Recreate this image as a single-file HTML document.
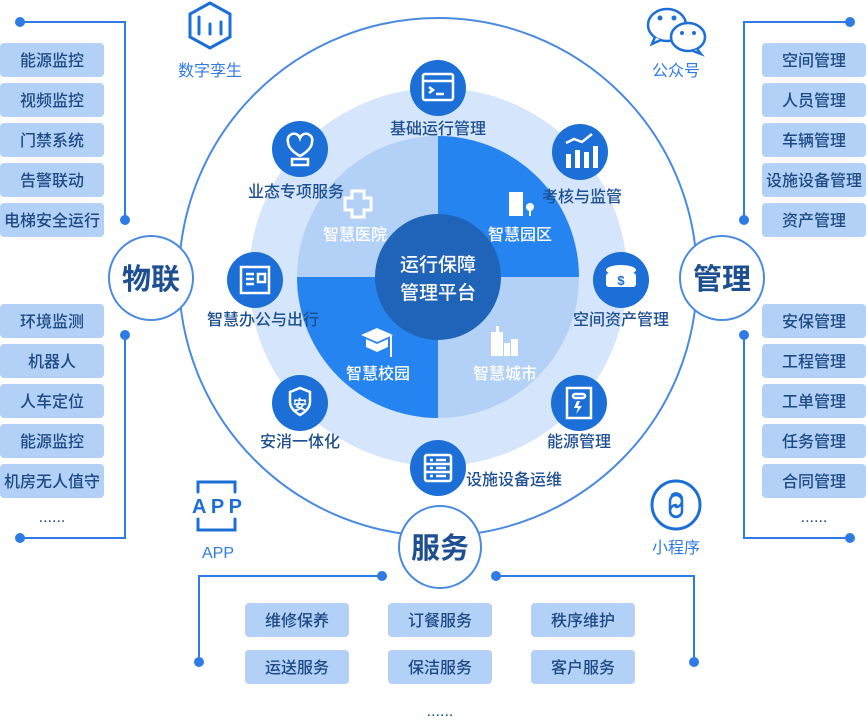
<!DOCTYPE html>
<html><head><meta charset="utf-8"><style>
html,body{margin:0;padding:0;background:#fff}
svg{display:block}
text{font-family:"Liberation Sans","Noto Sans CJK SC",sans-serif}
.bx{fill:#b3d1f7}
.bt{fill:#1d4a85;font-size:16px;text-anchor:middle;font-weight:500}
.lb{fill:#1d4f91;font-size:16px;font-weight:500}
.ic{fill:#1c6fd6}
.ln{stroke:#2e7be6;stroke-width:2;fill:none}
.dot{fill:#2e7be6}
.cn{fill:#2e7be6;font-size:16px;text-anchor:middle}
.w{fill:#fff;font-size:16px;text-anchor:middle;font-weight:500}
</style></head><body>
<svg width="866" height="720" viewBox="0 0 866 720" xmlns="http://www.w3.org/2000/svg">
<circle cx="438" cy="277" r="259" fill="#fff" stroke="#4a8be0" stroke-width="2"/>
<circle cx="438" cy="277" r="189" fill="#d5e5fb"/>
<path d="M438 277 L438 136 A141 141 0 0 1 579 277 Z" fill="#2584f0"/>
<path d="M438 277 L579 277 A141 141 0 0 1 438 418 Z" fill="#b3d1f7"/>
<path d="M438 277 L438 418 A141 141 0 0 1 297 277 Z" fill="#2584f0"/>
<path d="M438 277 L297 277 A141 141 0 0 1 438 136 Z" fill="#b3d1f7"/>
<circle cx="438" cy="277" r="63" fill="#1f64b8"/>
<text x="438" y="271" class="w" style="font-size:19px">运行保障</text>
<text x="438" y="299" class="w" style="font-size:19px">管理平台</text>
<text x="355" y="240" class="w">智慧医院</text>
<text x="520" y="240" class="w">智慧园区</text>
<text x="378" y="379" class="w">智慧校园</text>
<text x="505" y="379" class="w">智慧城市</text>
<g fill="#fff">
<path d="M352 191h12v7h7v12h-7v7h-12v-7h-7v-12h7z" fill="none" stroke="#fff" stroke-width="3"/>
<rect x="509" y="192" width="14" height="24"/><rect x="526" y="203" width="8" height="8" rx="4"/><rect x="529" y="208" width="2" height="8"/>
<path d="M361 335l16-7 16 7-16 7z"/><path d="M366 339v8l11 5 11-5v-8l-11 5z"/><rect x="390" y="336" width="2" height="21"/>
<rect x="491" y="332" width="12" height="24"/><rect x="496" y="326" width="3" height="6"/><rect x="504" y="343" width="6" height="13"/><rect x="511" y="339" width="7" height="17"/>
</g>
<g class="ic">
<circle cx="438" cy="88" r="28"/><circle cx="580" cy="152" r="28"/><circle cx="621" cy="280" r="28"/>
<circle cx="579" cy="403" r="28"/><circle cx="438" cy="468" r="28"/><circle cx="300" cy="403" r="28"/>
<circle cx="255" cy="280" r="28"/><circle cx="300" cy="149" r="28"/>
</g>
<g fill="none" stroke="#fff" stroke-width="2.5">
<rect x="423" y="74" width="30" height="26" rx="2"/><line x1="423" y1="81" x2="453" y2="81"/><path d="M429 87l4 3-4 3M436 94h8"/>
<path d="M288 142a6 6 0 0 1 12-4a6 6 0 0 1 12 4c0 8-12 14-12 14s-12-6-12-14z"/><rect x="292" y="159" width="16" height="6"/>
<path d="M566 143l8-4 8 3 10-8"/>
<rect x="241" y="267" width="28" height="26"/><path d="M246 274h8M246 279h8M246 284h8M258 274h7v8h-7z"/>
<path d="M290 392l10-4 10 4v10c0 8-10 13-10 13s-10-5-10-13z"/>
<rect x="567" y="388" width="24" height="30"/><rect x="573" y="394" width="12" height="4" rx="2"/>
<rect x="425" y="455" width="26" height="26" rx="2"/><path d="M425 464h26M425 472h26M430 460h3M436 460h10M430 468h3M436 468h10M430 476h3M436 476h10"/>
</g>
<g fill="#fff">
<rect x="566" y="154" width="5" height="14"/><rect x="575" y="150" width="5" height="18"/><rect x="584" y="152" width="5" height="16"/><rect x="593" y="146" width="5" height="22"/>
<ellipse cx="621" cy="270" rx="15" ry="5"/><rect x="606" y="273" width="30" height="14" rx="3"/>
<path d="M577 401l-3 7h4l-2 6 6-8h-4l2-5z"/>
</g>
<text x="621" y="285" fill="#1c6fd6" font-size="13" text-anchor="middle" font-weight="bold">$</text>
<text x="300" y="410" fill="#fff" font-size="14" text-anchor="middle" font-weight="bold">安</text>
<text x="438" y="134" class="lb" text-anchor="middle">基础运行管理</text>
<text x="296" y="197" class="lb" text-anchor="middle">业态专项服务</text>
<text x="582" y="202" class="lb" text-anchor="middle">考核与监管</text>
<text x="263" y="325" class="lb" text-anchor="middle">智慧办公与出行</text>
<text x="621" y="325" class="lb" text-anchor="middle">空间资产管理</text>
<text x="300" y="447" class="lb" text-anchor="middle">安消一体化</text>
<text x="579" y="447" class="lb" text-anchor="middle">能源管理</text>
<text x="514" y="485" class="lb" text-anchor="middle">设施设备运维</text>
<path class="ln" d="M20 22H125V220"/><circle class="dot" cx="20" cy="22" r="5"/><circle class="dot" cx="125" cy="220" r="5"/>
<path class="ln" d="M125 335V538H20"/><circle class="dot" cx="125" cy="335" r="5"/><circle class="dot" cx="20" cy="538" r="5"/>
<path class="ln" d="M850 22H744V220"/><circle class="dot" cx="850" cy="22" r="5"/><circle class="dot" cx="744" cy="220" r="5"/>
<path class="ln" d="M744 335V538H850"/><circle class="dot" cx="744" cy="335" r="5"/><circle class="dot" cx="850" cy="538" r="5"/>
<path class="ln" d="M382 576H199V662"/><circle class="dot" cx="382" cy="576" r="5"/><circle class="dot" cx="199" cy="662" r="5"/>
<path class="ln" d="M496 576H694V662"/><circle class="dot" cx="496" cy="576" r="5"/><circle class="dot" cx="694" cy="662" r="5"/>
<g fill="#fff" stroke="#4a8be0" stroke-width="2">
<circle cx="151" cy="278" r="42"/><circle cx="722" cy="278" r="42"/><circle cx="440" cy="547" r="41"/>
</g>
<g fill="#1d4f91" font-size="29" font-weight="bold" text-anchor="middle">
<text x="151" y="289">物联</text><text x="722" y="289">管理</text><text x="440" y="558">服务</text>
</g>
<g>
<rect class="bx" x="0" y="43" width="104" height="34" rx="4"/><text class="bt" x="52" y="66">能源监控</text>
<rect class="bx" x="0" y="83" width="104" height="34" rx="4"/><text class="bt" x="52" y="106">视频监控</text>
<rect class="bx" x="0" y="123" width="104" height="34" rx="4"/><text class="bt" x="52" y="146">门禁系统</text>
<rect class="bx" x="0" y="163" width="104" height="34" rx="4"/><text class="bt" x="52" y="186">告警联动</text>
<rect class="bx" x="0" y="203" width="104" height="34" rx="4"/><text class="bt" x="52" y="226">电梯安全运行</text>
<rect class="bx" x="0" y="304" width="104" height="34" rx="4"/><text class="bt" x="52" y="327">环境监测</text>
<rect class="bx" x="0" y="344" width="104" height="34" rx="4"/><text class="bt" x="52" y="367">机器人</text>
<rect class="bx" x="0" y="384" width="104" height="34" rx="4"/><text class="bt" x="52" y="407">人车定位</text>
<rect class="bx" x="0" y="424" width="104" height="34" rx="4"/><text class="bt" x="52" y="447">能源监控</text>
<rect class="bx" x="0" y="464" width="104" height="34" rx="4"/><text class="bt" x="52" y="487">机房无人值守</text>
<text class="bt" x="52" y="522">......</text>
</g>
<g>
<rect class="bx" x="762" y="43" width="104" height="34" rx="4"/><text class="bt" x="814" y="66">空间管理</text>
<rect class="bx" x="762" y="83" width="104" height="34" rx="4"/><text class="bt" x="814" y="106">人员管理</text>
<rect class="bx" x="762" y="123" width="104" height="34" rx="4"/><text class="bt" x="814" y="146">车辆管理</text>
<rect class="bx" x="762" y="163" width="104" height="34" rx="4"/><text class="bt" x="814" y="186">设施设备管理</text>
<rect class="bx" x="762" y="203" width="104" height="34" rx="4"/><text class="bt" x="814" y="226">资产管理</text>
<rect class="bx" x="762" y="304" width="104" height="34" rx="4"/><text class="bt" x="814" y="327">安保管理</text>
<rect class="bx" x="762" y="344" width="104" height="34" rx="4"/><text class="bt" x="814" y="367">工程管理</text>
<rect class="bx" x="762" y="384" width="104" height="34" rx="4"/><text class="bt" x="814" y="407">工单管理</text>
<rect class="bx" x="762" y="424" width="104" height="34" rx="4"/><text class="bt" x="814" y="447">任务管理</text>
<rect class="bx" x="762" y="464" width="104" height="34" rx="4"/><text class="bt" x="814" y="487">合同管理</text>
<text class="bt" x="814" y="522">......</text>
</g>
<g>
<rect class="bx" x="245" y="603" width="104" height="34" rx="4"/><text class="bt" x="297" y="626">维修保养</text>
<rect class="bx" x="388" y="603" width="104" height="34" rx="4"/><text class="bt" x="440" y="626">订餐服务</text>
<rect class="bx" x="531" y="603" width="104" height="34" rx="4"/><text class="bt" x="583" y="626">秩序维护</text>
<rect class="bx" x="245" y="650" width="104" height="34" rx="4"/><text class="bt" x="297" y="673">运送服务</text>
<rect class="bx" x="388" y="650" width="104" height="34" rx="4"/><text class="bt" x="440" y="673">保洁服务</text>
<rect class="bx" x="531" y="650" width="104" height="34" rx="4"/><text class="bt" x="583" y="673">客户服务</text>
<text class="bt" x="440" y="716">......</text>
</g>
<g fill="none" stroke="#1c6fd6" stroke-width="3" stroke-linecap="round">
<path d="M210 3l20 11v23l-20 11-20-11v-23z"/><path d="M199 17v17M210 24v10M221 22v12"/>
<path d="M198 492v-10h37v10M198 519v11h37v-11"/>
<circle cx="676" cy="505" r="24"/>
<path d="M672 495a6 6 0 0 1 10 4v12a6 6 0 1 1-6-6M680 515a6 6 0 0 1-10-4v-10a6 6 0 1 1 6 6" stroke-width="2.5"/>
</g>
<text x="217" y="513" fill="#1c6fd6" font-size="20" font-weight="bold" text-anchor="middle" textLength="50" lengthAdjust="spacing">APP</text>
<g fill="#fff" stroke="#1c6fd6" stroke-width="2.5">
<ellipse cx="667" cy="25" rx="19" ry="16"/>
<path d="M655 37l-3 7 9-4"/>
<ellipse cx="688" cy="37" rx="17" ry="14"/>
<path d="M697 49l4 5-8-3"/>
</g>
<g fill="#1c6fd6"><circle cx="660" cy="18" r="2.5"/><circle cx="674" cy="18" r="2.5"/><circle cx="682" cy="33" r="2"/><circle cx="694" cy="33" r="2"/></g>
<text class="cn" x="210" y="76">数字孪生</text>
<text class="cn" x="676" y="76">公众号</text>
<text class="cn" x="218" y="558">APP</text>
<text class="cn" x="676" y="553">小程序</text>
</svg>
</body></html>
